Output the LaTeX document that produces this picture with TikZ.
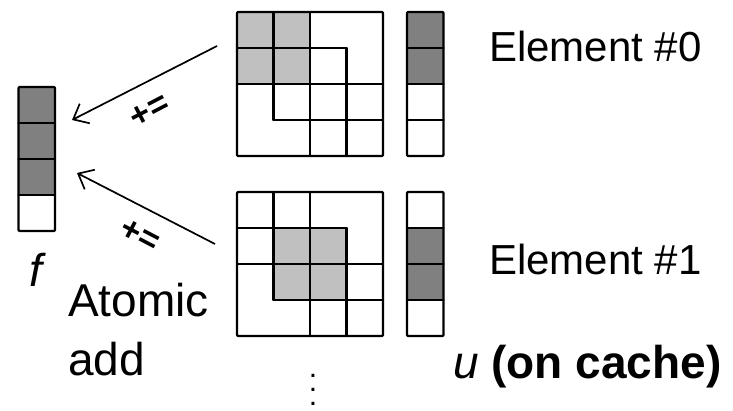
\documentclass[tikz,border=0pt]{standalone}
\usepackage{fontspec}
\setmainfont{Liberation Sans}
\usetikzlibrary{arrows.meta}
\definecolor{lightshade}{HTML}{C0C0C0}
\definecolor{darkshade}{HTML}{808080}
\tikzset{
  gridline/.style={line width=2.2pt, line cap=round, line join=round},
  outerbox/.style={gridline, rounded corners=1pt},
  addarrow/.style={line width=1.7pt, -{Straight Barb[length=13pt,width=22pt,line width=1.7pt]}},
  elemtext/.style={font=\fontsize{42}{48}\selectfont, inner sep=0pt, anchor=base west},
  bigtext/.style={font=\fontsize{46}{52}\selectfont, inner sep=0pt, anchor=base west},
  optext/.style={font=\fontsize{34}{36}\selectfont\bfseries, inner sep=0pt},
}
\newcommand{\mymatrix}[3]{% #1 x, #2 y, #3 shaded block offset
  \begin{scope}[shift={(#1,#2)}, x=36.5pt, y=-36pt]
    \fill[lightshade] (#3,#3) rectangle (#3+2,#3+2);
    \draw[gridline] (1,0) -- (1,3);
    \draw[gridline] (2,0) -- (2,4);
    \draw[gridline] (3,1) -- (3,4);
    \draw[gridline] (0,1) -- (3,1);
    \draw[gridline] (0,2) -- (4,2);
    \draw[gridline] (1,3) -- (4,3);
    \draw[outerbox] (0,0) rectangle (4,4);
  \end{scope}}
\newcommand{\myvector}[4]{% #1 x, #2 y, #3 first shaded, #4 last shaded
  \begin{scope}[shift={(#1,#2)}, x=36.5pt, y=-36pt]
    \foreach \k in {#3,...,#4} {\fill[darkshade] (0,\k) rectangle (1,\k+1);}
    \draw[gridline] (0,1) -- (1,1);
    \draw[gridline] (0,2) -- (1,2);
    \draw[gridline] (0,3) -- (1,3);
    \draw[outerbox] (0,0) rectangle (1,4);
  \end{scope}}
\begin{document}
\begin{tikzpicture}[x=1pt,y=-1pt]
\useasboundingbox (0,0) rectangle (733,411);
% matrices and vectors
\mymatrix{237}{12}{0}
\mymatrix{237}{192}{1}
\myvector{407}{12}{0}{1}
\myvector{407}{192}{1}{2}
\myvector{18.5}{87}{0}{2}
% connector endpoints
\coordinate (m0) at (217,46);
\coordinate (m1) at (215,244);
\coordinate (f0) at (72,120);
\coordinate (f1) at (77,173);
\draw[addarrow] (m0) -- (f0);
\draw[addarrow] (m1) -- (f1);
\node[optext, rotate=27.5] (p0) at (150,111) {+=};
\node[optext, rotate=-27.5] (p1) at (140,236) {+=};
% labels
\node[elemtext] (e0) at (489,62) {Element \#0};
\node[elemtext] (e1) at (489,275) {Element \#1};
\node[bigtext, anchor=base] (fl) at (36,287) {\itshape f};
\node[bigtext] (at) at (68,317) {Atomic};
\node[bigtext] (ad) at (68,375) {add};
\node[bigtext] (ul) at (453,378) {\itshape u \bfseries\upshape (on cache)};
\node[font=\fontsize{30}{14}\selectfont, inner sep=0pt, anchor=north] (vd) at (313,374)
  {\vbox{\baselineskip=14pt\lineskiplimit=-20pt\hbox{.}\hbox{.}\hbox{.}}};
\end{tikzpicture}
\end{document}
